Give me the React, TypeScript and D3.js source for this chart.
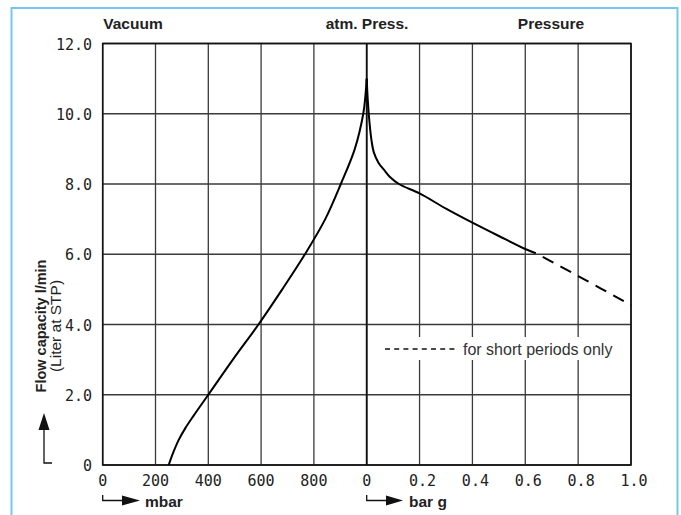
import { line, curveCatmullRom, scaleLinear } from 'd3';

// vacuum side: absolute pressure in mbar -> flow l/min
const vacuumMbar = [250, 267, 287, 313, 344, 400, 493, 590, 680, 766, 843, 902, 955, 987, 995, 1000];
const vacuumFlow = [0, 0.35, 0.7, 1.05, 1.4, 2.0, 3.0, 4.0, 5.0, 6.0, 7.0, 8.0, 9.0, 10.0, 10.5, 11.0];

// pressure side: bar g -> flow l/min
const pressureBar = [0, 0.004, 0.01, 0.018, 0.027, 0.045, 0.066, 0.088, 0.122, 0.2, 0.3, 0.4, 0.5, 0.6, 0.64];
const pressureFlow = [11.0, 10.4, 9.8, 9.25, 8.9, 8.6, 8.4, 8.2, 8.0, 7.73, 7.3, 6.9, 6.52, 6.15, 6.03];

// short-period extension (dashed)
const shortBar = [0.64, 0.8, 1.0];
const shortFlow = [6.03, 5.38, 4.55];

const vacuumTicks = [0, 200, 400, 600, 800];
const pressureTicks = [0, 0.2, 0.4, 0.6, 0.8, 1.0];
const pressureLabels = ['0', '0.2', '0.4', '0.6', '0.8', '1.0'];
const flowTicks = [0, 2, 4, 6, 8, 10, 12];
const flowLabels = ['0', '2.0', '4.0', '6.0', '8.0', '10.0', '12.0'];

const dims = { left: 102.7, mid: 366.7, right: 631, top: 43.5, bottom: 465 };

const App = () => {
  const xVac = scaleLinear().domain([0, 1000]).range([dims.left, dims.mid]);
  const xPre = scaleLinear().domain([0, 1]).range([dims.mid, dims.right]);
  const y = scaleLinear().domain([0, 12]).range([dims.bottom, dims.top]);

  const vacLine = line<number>()
    .x((d) => xVac(d))
    .y((_, i) => y(vacuumFlow[i]))
    .curve(curveCatmullRom.alpha(0.5));
  const preLine = line<number>()
    .x((d) => xPre(d))
    .y((_, i) => y(pressureFlow[i]))
    .curve(curveCatmullRom.alpha(0.5));
  const shortLine = line<number>()
    .x((d) => xPre(d))
    .y((_, i) => y(shortFlow[i]))
    .curve(curveCatmullRom.alpha(0.5));

  const sans = 'Liberation Sans, Arial, sans-serif';
  const mono = 'DejaVu Sans Mono, monospace';
  const grid = '#3a3a3a';

  return (
    <svg width={681} height={515} style={{ position: 'absolute', left: 0, top: 0 }}>
      <rect x={0} y={0} width={681} height={515} fill="#fff" />
      {/* blue frame */}
      <path d="M11.5,530 V8 H677.5 V530" fill="none" stroke="#74c7ee" strokeWidth={2} />

      {/* grid */}
      {vacuumTicks.map((t) => (
        <line key={'v' + t} x1={xVac(t)} x2={xVac(t)} y1={dims.top} y2={dims.bottom} stroke={grid} strokeWidth={1.3} />
      ))}
      {pressureTicks.map((t) => (
        <line key={'p' + t} x1={xPre(t)} x2={xPre(t)} y1={dims.top} y2={dims.bottom} stroke={grid} strokeWidth={1.3} />
      ))}
      {flowTicks.map((t) => (
        <line key={'h' + t} x1={dims.left} x2={dims.right} y1={y(t)} y2={y(t)} stroke={grid} strokeWidth={1.3} />
      ))}
      <rect x={dims.left} y={dims.top} width={dims.right - dims.left} height={dims.bottom - dims.top} fill="none" stroke="#111" strokeWidth={1.6} />
      <line x1={dims.mid} x2={dims.mid} y1={dims.top} y2={dims.bottom} stroke="#111" strokeWidth={1.8} />

      {/* legend */}
      <rect x={371} y={337} width={255} height={23} fill="#fff" />
      <line x1={385} x2={458} y1={349} y2={349} stroke="#111" strokeWidth={1.5} strokeDasharray="5 4.2" />
      <text x={463} y={354.5} fontFamily={sans} fontSize={16} fill="#333">for short periods only</text>

      {/* curves */}
      <path d={vacLine(vacuumMbar) ?? ''} fill="none" stroke="#000" strokeWidth={2} />
      <path d={preLine(pressureBar) ?? ''} fill="none" stroke="#000" strokeWidth={2} />
      <path d={shortLine(shortBar) ?? ''} fill="none" stroke="#000" strokeWidth={2} strokeDasharray="12 8" strokeDashoffset={12} />

      {/* headers */}
      <g fontFamily={sans} fontSize={15.5} fontWeight="bold" fill="#222" textAnchor="middle">
        <text x={133} y={29}>Vacuum</text>
        <text x={367} y={29}>atm. Press.</text>
        <text x={551} y={29}>Pressure</text>
      </g>

      {/* y tick labels */}
      <g fontFamily={mono} fontSize={15} fill="#222" textAnchor="end">
        {flowTicks.map((t, i) => (
          <text key={t} x={92} y={y(t) + 6}>{flowLabels[i]}</text>
        ))}
      </g>

      {/* x tick labels */}
      <g fontFamily={mono} fontSize={15} fill="#222" textAnchor="middle">
        {vacuumTicks.map((t) => (
          <text key={'vl' + t} x={xVac(t)} y={486}>{String(t)}</text>
        ))}
        {pressureTicks.map((t, i) => (
          <text key={'pl' + t} x={xPre(t) + (i === 0 ? 0 : 3)} y={486}>{pressureLabels[i]}</text>
        ))}
      </g>

      {/* y title */}
      <g transform="translate(46,326) rotate(-90)" fontFamily={sans} fill="#222" textAnchor="middle">
        <text x={0} y={0} fontSize={14.5} fontWeight="bold">Flow capacity l/min</text>
        <text x={0} y={14.5} fontSize={15.5}>(Liter at STP)</text>
      </g>
      {/* y arrow */}
      <path d="M52,463 H44 V428" fill="none" stroke="#111" strokeWidth={1.3} />
      <path d="M38.5,430 L44,413 L49.5,430 Z" fill="#111" />

      {/* x arrows */}
      <path d={`M${dims.left},495 V500.5 H123`} fill="none" stroke="#111" strokeWidth={1.3} />
      <path d="M122,495.5 L140,500.5 L122,505.5 Z" fill="#111" />
      <text x={145} y={507} fontFamily={sans} fontSize={15.5} fontWeight="bold" fill="#222">mbar</text>
      <path d={`M${dims.mid},495 V500.5 H387`} fill="none" stroke="#111" strokeWidth={1.3} />
      <path d="M386,495.5 L403,500.5 L386,505.5 Z" fill="#111" />
      <text x={409} y={507} fontFamily={sans} fontSize={15.5} fontWeight="bold" fill="#222">bar g</text>
    </svg>
  );
};

export default App;
